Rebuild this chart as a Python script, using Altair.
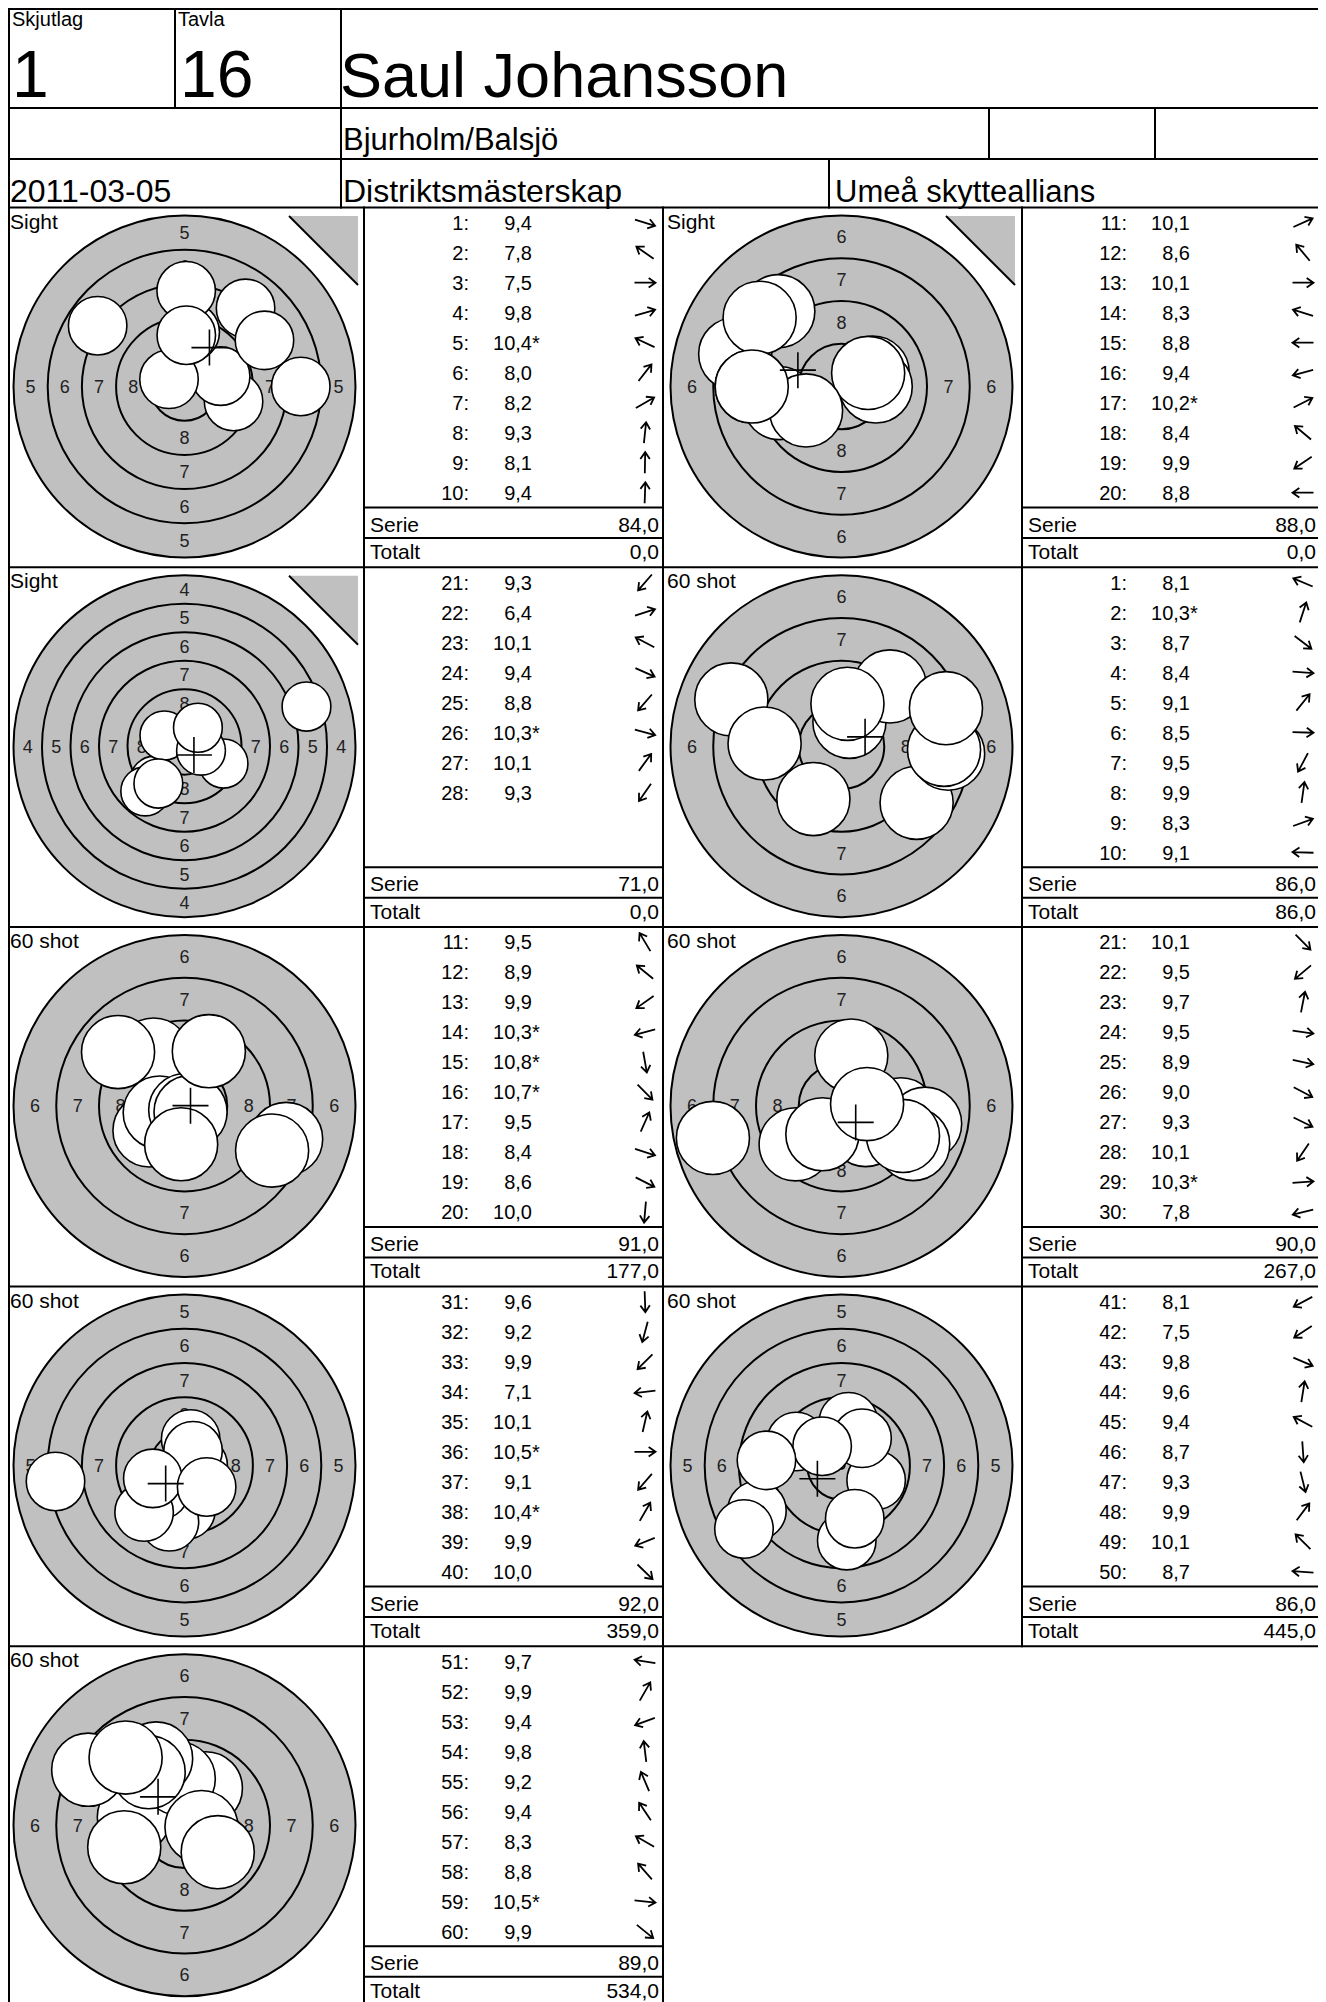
import math
import altair as alt
import pandas as pd

# ---------------- header texts ----------------
SKJUTLAG_LABEL = "Skjutlag"
TAVLA_LABEL = "Tavla"
SKJUTLAG = "1"
TAVLA = "16"
NAME = "Saul Johansson"
CLUB = "Bjurholm/Balsjö"
DATE = "2011-03-05"
COMPETITION = "Distriktsmästerskap"
ORGANIZER = "Umeå skytteallians"

# ---------------- panels ----------------
panel_label = ["Sight", "Sight", "Sight", "60 shot", "60 shot", "60 shot", "60 shot", "60 shot", "60 shot"]
panel_first = [1, 11, 21, 1, 11, 21, 31, 41, 51]
panel_outer_ring = [5, 6, 4, 6, 6, 6, 5, 5, 6]
panel_serie = ["84,0", "88,0", "71,0", "86,0", "91,0", "90,0", "92,0", "86,0", "89,0"]
panel_total = ["0,0", "0,0", "0,0", "86,0", "177,0", "267,0", "359,0", "445,0", "534,0"]

# scores as printed, and shot direction (degrees clockwise from east, as the arrows show)
scores_1 = ["9,4", "7,8", "7,5", "9,8", "10,4*", "8,0", "8,2", "9,3", "8,1", "9,4"]
angles_1 = [17, 215, 0, 344, 205, 308, 330, 276, 271, 272]
scores_2 = ["10,1", "8,6", "10,1", "8,3", "8,8", "9,4", "10,2*", "8,4", "9,9", "8,8"]
angles_2 = [336, 230, 0, 197, 180, 165, 333, 220, 146, 180]
scores_3 = ["9,3", "6,4", "10,1", "9,4", "8,8", "10,3*", "10,1", "9,3"]
angles_3 = [131, 342, 208, 24, 131, 15, 306, 125]
scores_4 = ["8,1", "10,3*", "8,7", "8,4", "9,1", "8,5", "9,5", "9,9", "8,3", "9,1"]
angles_4 = [203, 288, 37, 4, 309, 2, 118, 278, 340, 182]
scores_5 = ["9,5", "8,9", "9,9", "10,3*", "10,8*", "10,7*", "9,5", "8,4", "8,6", "10,0"]
angles_5 = [239, 219, 145, 165, 80, 45, 294, 18, 27, 95]
scores_6 = ["10,1", "9,5", "9,7", "9,5", "8,9", "9,0", "9,3", "10,1", "10,3*", "7,8"]
angles_6 = [45, 140, 281, 8, 12, 28, 26, 124, 356, 166]
scores_7 = ["9,6", "9,2", "9,9", "7,1", "10,1", "10,5*", "9,1", "10,4*", "9,9", "10,0"]
angles_7 = [88, 105, 135, 173, 283, 0, 131, 300, 158, 44]
scores_8 = ["8,1", "7,5", "9,8", "9,6", "9,4", "8,7", "9,3", "9,9", "10,1", "8,7"]
angles_8 = [152, 147, 23, 279, 208, 86, 76, 307, 225, 184]
scores_9 = ["9,7", "9,9", "9,4", "9,8", "9,2", "9,4", "8,3", "8,8", "10,5*", "9,9"]
angles_9 = [189, 300, 160, 263, 247, 236, 210, 229, 6, 39]

all_scores = [scores_1, scores_2, scores_3, scores_4, scores_5, scores_6, scores_7, scores_8, scores_9]
all_angles = [angles_1, angles_2, angles_3, angles_4, angles_5, angles_6, angles_7, angles_8, angles_9]

# ---------------- layout (page pixels) ----------------
X_LEFT, X_RIGHT = 9, 1320
Y_TOP, Y_H1, Y_H2, Y_PANELS = 9, 108, 159, 207.5
ROW_H = 359.7
COL_LEFT = [6, 663]
TABLE_LEFT = [364, 1022]
TABLE_RIGHT = [663, 1320]
R = 171.0
GRAY = "#c0c0c0"
FONT = "Liberation Sans"
FS_ROW = 20
FS_SUM = 21
FS_RING = 18

lines, t_left, t_right, t_center = [], [], [], []
disks, rings, shots, crosses, tris, arrows, dots = [], [], [], [], [], [], []


def hline(y, x1, x2):
    lines.append(dict(x=x1, x2=x2, y=y, y2=y))


def vline(x, y1, y2):
    lines.append(dict(x=x, x2=x, y=y1, y2=y2))


n_rows = 5
y_bottom = Y_PANELS + n_rows * ROW_H
# header grid
for y in (Y_TOP, Y_H1, Y_H2):
    hline(y, X_LEFT, X_RIGHT)
vline(175, Y_TOP, Y_H1)
vline(341, Y_TOP, Y_PANELS)
vline(989, Y_H1, Y_H2)
vline(1155, Y_H1, Y_H2)
vline(829, Y_H2, Y_PANELS)
vline(X_LEFT, Y_TOP, y_bottom)
vline(X_RIGHT, Y_TOP, Y_PANELS + 4 * ROW_H)
for i in range(n_rows + 1):
    hline(Y_PANELS + i * ROW_H, X_LEFT, X_RIGHT if i < n_rows else TABLE_RIGHT[0])
vline(TABLE_LEFT[0], Y_PANELS, y_bottom)
vline(TABLE_RIGHT[0], Y_PANELS, y_bottom)
vline(TABLE_LEFT[1], Y_PANELS, Y_PANELS + 4 * ROW_H)

# header texts
t_left += [
    dict(x=12, y=26, text=SKJUTLAG_LABEL, size=20),
    dict(x=178, y=26, text=TAVLA_LABEL, size=20),
    dict(x=12, y=97, text=SKJUTLAG, size=66),
    dict(x=180, y=97, text=TAVLA, size=66),
    dict(x=340, y=97, text=NAME, size=63),
    dict(x=343, y=150, text=CLUB, size=31),
    dict(x=10, y=202, text=DATE, size=32),
    dict(x=343, y=202, text=COMPETITION, size=32),
    dict(x=835, y=202, text=ORGANIZER, size=31),
]


def parse(sc):
    star = sc.endswith("*")
    return float(sc.rstrip("*").replace(",", ".")), star


for p in range(9):
    r, c = divmod(p, 2)
    top = Y_PANELS + r * ROW_H
    cx = COL_LEFT[c] + 178.5
    cy = top + 179
    v0 = panel_outer_ring[p]
    s = R / (10 - v0)
    TL, TR = TABLE_LEFT[c], TABLE_RIGHT[c]

    # table lines
    hline(top + 300, TL, TR)
    hline(top + 330.5, TL, TR)

    # panel label
    t_left.append(dict(x=COL_LEFT[c] + 4, y=top + 21, text=panel_label[p], size=21))
    if panel_label[p] == "Sight":
        tris.append(dict(x=COL_LEFT[c] + 352 - 34.5, y=top + 8.5 + 34.5))

    # target
    disks.append(dict(x=cx, y=cy, size=(2 * R) ** 2))
    for k in range(v0 + 1, 10):
        rr = s * (10 - k)
        rings.append(dict(x=cx, y=cy, size=(2 * rr) ** 2))
    dots.append(dict(x=cx, y=cy, size=(0.2 * s) ** 2))
    for k in range(v0, 9):
        d = s * (10 - k - 0.5)
        for dx, dy in ((0, -d), (0, d), (-d, 0), (d, 0)):
            t_center.append(dict(x=cx + dx, y=cy + dy + 0.36 * FS_RING, text=str(k), size=FS_RING))

    # shots
    xs, ys = [], []
    for i, (sc, ang) in enumerate(zip(all_scores[p], all_angles[p])):
        val, star = parse(sc)
        dist = (10.9 - val) * s
        sx = cx + dist * math.cos(math.radians(ang))
        sy = cy + dist * math.sin(math.radians(ang))
        xs.append(sx)
        ys.append(sy)
        shots.append(dict(x=sx, y=sy, size=(1.71 * s) ** 2))
        yb = top + 22.5 + 30 * i
        t_right.append(dict(x=TL + 105, y=yb, text=f"{panel_first[p] + i}:", size=FS_ROW))
        t_right.append(dict(x=TL + 168, y=yb, text=sc.rstrip("*"), size=FS_ROW))
        if star:
            t_left.append(dict(x=TL + 168, y=yb, text="*", size=FS_ROW))
        arrows.append(dict(x=TL + 281, y=top + 15.2 + 30 * i, angle=ang % 360))
    crosses.append(dict(x=sum(xs) / len(xs), y=sum(ys) / len(ys)))

    t_left.append(dict(x=TL + 6, y=top + 324, text="Serie", size=FS_SUM))
    t_left.append(dict(x=TL + 6, y=top + 351.5, text="Totalt", size=FS_SUM))
    t_right.append(dict(x=TR - 4, y=top + 324, text=panel_serie[p], size=FS_SUM))
    t_right.append(dict(x=TR - 4, y=top + 351.5, text=panel_total[p], size=FS_SUM))

# ---------------- chart ----------------
W, H = 1310, 1994
XS = alt.Scale(domain=[8, 8 + W], nice=False, zero=False)
YS = alt.Scale(domain=[8, 8 + H], nice=False, zero=False, reverse=True)


def base(rows):
    return alt.Chart(pd.DataFrame(rows))


def xy():
    return dict(x=alt.X("x:Q", scale=XS, axis=None), y=alt.Y("y:Q", scale=YS, axis=None))


SZ = alt.Size("size:Q", scale=None, legend=None)

tri_fill = base(tris).mark_point(shape="M -1 -1 L 1 -1 L 1 1 Z", filled=True, fill=GRAY,
                                 strokeWidth=0, size=69 ** 2, opacity=1).encode(**xy())
tri_line = base(tris).mark_point(shape="M -1 -1 L 1 1", filled=False, stroke="black", color="black",
                                 strokeWidth=2, size=69 ** 2, opacity=1).encode(**xy())
disk = base(disks).mark_point(shape="circle", filled=True, fill=GRAY, stroke="black",
                              strokeWidth=2, opacity=1).encode(**xy(), size=SZ)
ring = base(rings).mark_point(shape="circle", filled=False, stroke="black", color="black",
                              strokeWidth=2, opacity=1).encode(**xy(), size=SZ)
dot = base(dots).mark_point(shape="circle", filled=False, stroke="black", color="black",
                            strokeWidth=1.5, opacity=1).encode(**xy(), size=SZ)
ring_txt = base(t_center).mark_text(align="center", baseline="alphabetic", font=FONT, color="#222").encode(
    **xy(), text="text:N", size=SZ)
shot = base(shots).mark_point(shape="circle", filled=True, fill="white", stroke="black",
                              strokeWidth=1.6, opacity=1).encode(**xy(), size=SZ)
cross = base(crosses).mark_point(shape="M -1 0 L 1 0 M 0 -1 L 0 1", filled=False, stroke="black",
                                 color="black", strokeWidth=1.6, size=36 ** 2, opacity=1).encode(**xy())
grid = base(lines).mark_rule(color="black", strokeWidth=2, strokeCap="square").encode(
    x=alt.X("x:Q", scale=XS, axis=None), x2="x2:Q",
    y=alt.Y("y:Q", scale=YS, axis=None), y2="y2:Q")
txt_l = base(t_left).mark_text(align="left", baseline="alphabetic", font=FONT, color="black").encode(
    **xy(), text="text:N", size=SZ)
txt_r = base(t_right).mark_text(align="right", baseline="alphabetic", font=FONT, color="black").encode(
    **xy(), text="text:N", size=SZ)
arrow = base(arrows).mark_point(shape="M -1 0 L 1 0 M 0.35 -0.45 L 1 0 L 0.35 0.45", filled=False,
                                stroke="black", color="black", strokeWidth=1.8, size=21 ** 2,
                                opacity=1).encode(**xy(), angle=alt.Angle("angle:Q", scale=None))

chart = alt.layer(tri_fill, tri_line, disk, ring, dot, ring_txt, shot, cross, grid, txt_l, txt_r, arrow).properties(
    width=W, height=H, padding=0, autosize=alt.AutoSizeParams(type="none")
).configure_view(strokeWidth=0).configure(background="white")

chart.save("out.html", embed_options={"renderer": "svg", "actions": False})
